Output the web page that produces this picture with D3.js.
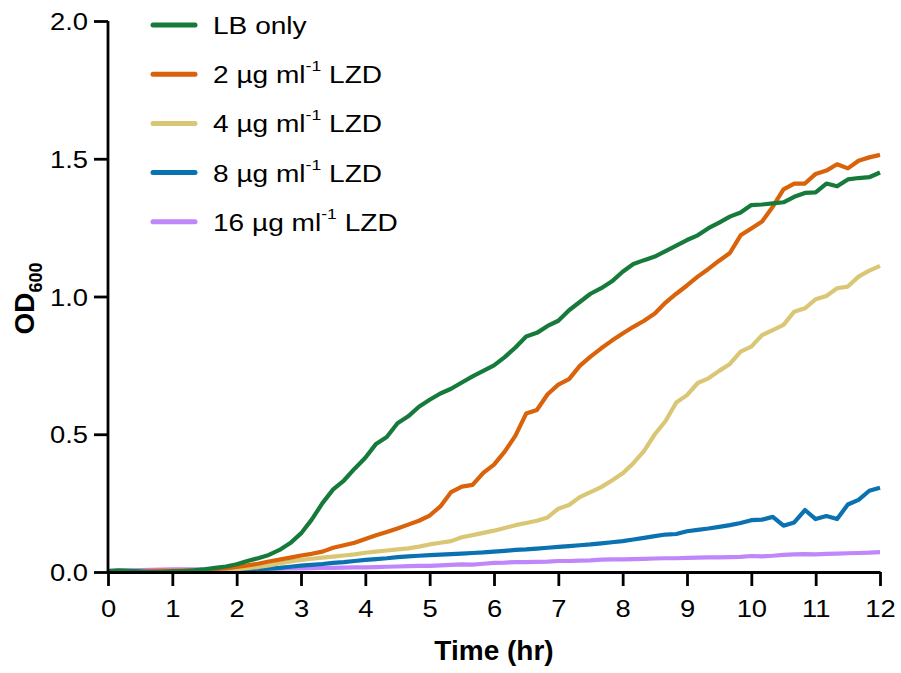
<!DOCTYPE html>
<html>
<head>
<meta charset="utf-8">
<script src="https://cdn.jsdelivr.net/npm/d3@7"></script>
<style>
  html, body { margin: 0; padding: 0; background: #fff; }
  svg { display: block; }
  text { font-family: "Liberation Sans", Arial, Helvetica, sans-serif; fill: #000; }
</style>
</head>
<body>
<svg id="chart" width="901" height="673"></svg>
<script>
// Sampling times, minutes (one reading every 10 min over 12 h)
const timeMin = [0,10,20,30,40,50,60,70,80,90,100,110,120,130,140,150,160,170,180,190,200,210,220,230,240,250,260,270,280,290,300,310,320,330,340,350,360,370,380,390,400,410,420,430,440,450,460,470,480,490,500,510,520,530,540,550,560,570,580,590,600,610,620,630,640,650,660,670,680,690,700,710,720];

// OD600 readings per condition
const lbOnly = [0.003,0.006,0.004,0.002,0.000,0.000,0.002,0.003,0.006,0.010,0.015,0.020,0.028,0.040,0.050,0.062,0.080,0.105,0.140,0.190,0.250,0.300,0.332,0.375,0.415,0.465,0.490,0.540,0.565,0.600,0.625,0.648,0.665,0.688,0.710,0.730,0.750,0.780,0.815,0.855,0.868,0.893,0.912,0.950,0.980,1.010,1.030,1.055,1.090,1.118,1.132,1.145,1.165,1.185,1.205,1.222,1.248,1.268,1.290,1.305,1.332,1.334,1.338,1.342,1.362,1.376,1.378,1.410,1.400,1.425,1.430,1.433,1.450];
const lzd2 = [0.002,0.002,0.000,0.000,0.003,0.004,0.004,0.005,0.006,0.008,0.010,0.013,0.018,0.024,0.030,0.038,0.045,0.052,0.060,0.066,0.074,0.088,0.097,0.106,0.120,0.133,0.145,0.158,0.172,0.186,0.205,0.238,0.290,0.310,0.316,0.360,0.390,0.437,0.495,0.575,0.588,0.645,0.680,0.700,0.748,0.782,0.812,0.840,0.866,0.890,0.912,0.938,0.978,1.010,1.040,1.072,1.100,1.130,1.158,1.222,1.247,1.272,1.326,1.389,1.410,1.410,1.445,1.457,1.480,1.465,1.493,1.505,1.514];
const lzd4 = [0.002,0.002,0.001,0.002,0.003,0.003,0.004,0.004,0.005,0.006,0.007,0.008,0.010,0.014,0.018,0.024,0.031,0.038,0.044,0.048,0.052,0.056,0.060,0.064,0.070,0.074,0.078,0.082,0.086,0.092,0.100,0.106,0.112,0.126,0.134,0.142,0.150,0.160,0.170,0.178,0.186,0.198,0.230,0.243,0.272,0.290,0.308,0.332,0.358,0.395,0.440,0.500,0.548,0.615,0.642,0.686,0.703,0.730,0.755,0.800,0.818,0.860,0.878,0.897,0.945,0.957,0.990,1.002,1.030,1.036,1.072,1.094,1.111];
const lzd8 = [0.002,0.003,0.003,0.002,0.002,0.003,0.003,0.003,0.004,0.004,0.005,0.005,0.006,0.008,0.010,0.012,0.015,0.019,0.023,0.026,0.029,0.033,0.036,0.040,0.044,0.047,0.050,0.054,0.057,0.059,0.061,0.063,0.065,0.067,0.069,0.071,0.074,0.077,0.080,0.082,0.085,0.088,0.091,0.094,0.097,0.100,0.104,0.108,0.112,0.118,0.124,0.130,0.136,0.138,0.148,0.153,0.158,0.164,0.170,0.178,0.188,0.190,0.200,0.168,0.180,0.225,0.192,0.203,0.192,0.245,0.262,0.295,0.306];
const lzd16 = [0.004,0.005,0.006,0.007,0.008,0.009,0.010,0.010,0.010,0.010,0.010,0.010,0.010,0.011,0.011,0.012,0.012,0.013,0.013,0.014,0.015,0.015,0.016,0.017,0.017,0.018,0.019,0.020,0.021,0.022,0.022,0.024,0.026,0.028,0.027,0.030,0.033,0.034,0.036,0.036,0.037,0.038,0.040,0.040,0.041,0.042,0.045,0.046,0.046,0.047,0.048,0.049,0.050,0.050,0.051,0.052,0.053,0.053,0.054,0.055,0.058,0.057,0.059,0.062,0.064,0.065,0.064,0.066,0.067,0.068,0.069,0.070,0.072];

// Conditions in legend order
const conditions = ["LB only", "2", "4", "8", "16"];
const conditionColors = ["#167a3b", "#d9620b", "#d9c776", "#0a72b0", "#c087fb"];
const conditionValues = [lbOnly, lzd2, lzd4, lzd8, lzd16];

// Axis ticks
const xTicks = [0,1,2,3,4,5,6,7,8,9,10,11,12];
const yTicks = [0, 0.5, 1.0, 1.5, 2.0];

const svg = d3.select("#chart");
const margin = { left: 108, right: 21, top: 21, bottom: 101 };
const W = 901, H = 673;

const x = d3.scaleLinear().domain([0, 12]).range([margin.left, W - margin.right]);
const y = d3.scaleLinear().domain([0, 2]).range([H - margin.bottom, margin.top]);

// Growth curves (drawn back to front so LB only sits on top)
const line = d3.line()
  .x((d, i) => x(timeMin[i] / 60))
  .y(d => y(d));

const seriesOrder = d3.range(conditions.length).reverse();
svg.append("g")
  .selectAll("path")
  .data(seriesOrder)
  .join("path")
  .attr("d", k => line(conditionValues[k]))
  .attr("fill", "none")
  .attr("stroke", k => conditionColors[k])
  .attr("stroke-width", 4.2)
  .attr("stroke-linejoin", "round")
  .attr("stroke-linecap", "butt");

// Axes
const tickScaleX = 1.14;
const xAxis = svg.append("g")
  .attr("transform", `translate(0,${y(0)})`)
  .call(d3.axisBottom(x).tickValues(xTicks).tickFormat(d3.format("d")).tickSize(14).tickSizeOuter(0));
const yAxis = svg.append("g")
  .attr("transform", `translate(${x(0)},0)`)
  .call(d3.axisLeft(y).tickValues(yTicks).tickFormat(d3.format(".1f")).tickSize(14).tickSizeOuter(0));

[xAxis, yAxis].forEach(g => {
  g.select(".domain").attr("stroke", "#000").attr("stroke-width", 2.8);
  g.selectAll(".tick line").attr("stroke", "#000").attr("stroke-width", 2.8);
  g.selectAll(".tick text")
    .attr("font-size", 24)
    .attr("font-family", "'Liberation Sans', Arial, sans-serif")
    .attr("fill", "#000");
});
xAxis.selectAll(".tick text")
  .attr("y", 45).attr("dy", 0)
  .attr("transform", `scale(${tickScaleX},1)`);
yAxis.selectAll(".tick text")
  .attr("x", -20 / tickScaleX).attr("dy", "0.36em")
  .attr("transform", `scale(${tickScaleX},1)`);
// Extend the y axis line a little below zero so the corner closes
yAxis.select(".domain").attr("d", `M0,${y(2)}V${y(0) + 1.4}`);

// Axis titles
svg.append("text")
  .attr("x", (x(0) + x(12)) / 2)
  .attr("y", 660)
  .attr("text-anchor", "middle")
  .attr("font-size", 28)
  .attr("font-weight", "bold")
  .text("Time (hr)");

const yTitle = svg.append("text")
  .attr("transform", `translate(34,${(y(0) + y(2)) / 2 + 2}) rotate(-90)`)
  .attr("text-anchor", "middle")
  .attr("font-size", 28)
  .attr("font-weight", "bold");
yTitle.append("tspan").text("OD");
yTitle.append("tspan").attr("font-size", 18).attr("dy", 7.5).text("600");

// Legend
const legendX0 = 153, legendX1 = 195, legendTextX = 213;
const legendY0 = 25, legendStep = 49.2;
const legend = svg.append("g");
conditions.forEach((c, i) => {
  const ly = legendY0 + i * legendStep;
  legend.append("line")
    .attr("x1", legendX0).attr("x2", legendX1)
    .attr("y1", ly).attr("y2", ly)
    .attr("stroke", conditionColors[i])
    .attr("stroke-width", 5)
    .attr("stroke-linecap", "round");
  const t = legend.append("g")
    .attr("transform", `translate(${legendTextX},${ly + 9}) scale(1.17,1)`)
    .append("text")
    .attr("font-size", 24);
  if (i === 0) {
    t.text(c);
  } else {
    t.append("tspan").text(`${c} µg ml`);
    t.append("tspan").attr("font-size", 15).attr("dy", -12).text("-1");
    t.append("tspan").attr("dy", 12).text(" LZD");
  }
});
</script>
</body>
</html>
